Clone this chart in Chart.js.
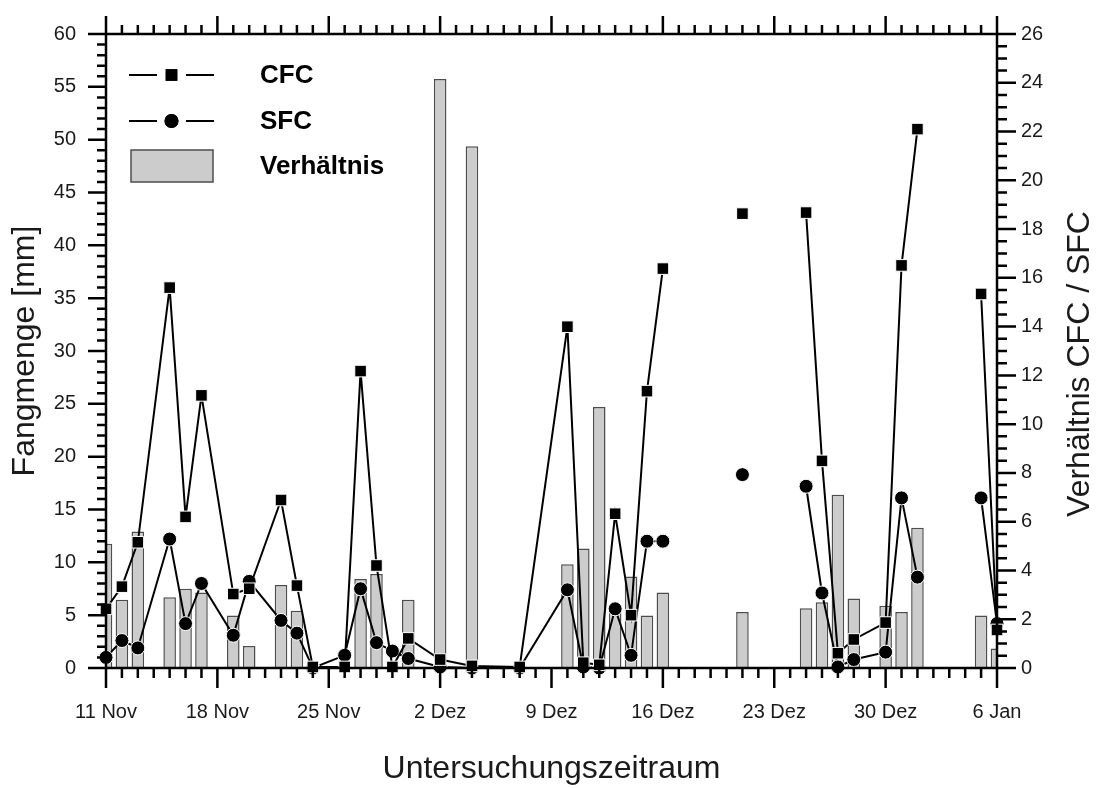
<!DOCTYPE html>
<html>
<head>
<meta charset="utf-8">
<title>Fangmenge CFC / SFC</title>
<script src="https://cdn.jsdelivr.net/npm/chart.js@4.4.1/dist/chart.umd.min.js"></script>
<style>
  html, body { margin: 0; padding: 0; background: #fff; }
  #wrap { width: 1096px; height: 788px; position: relative; }
</style>
</head>
<body>
<div id="wrap"><canvas id="fangChart"></canvas></div>
<script>
// days since 11 Nov; null = no measurement, the lines break there
const days  = [0, 1, 2, 4, 5, 6, 8, 9, 11, 12, 13, 15, 16, 17, 18, 19, 21, 23, 26, 29, 30, 31, 32, 33, 34, 35, 38, 40, 42, 44, 45, 46, 47, 49, 50, 51, 53, 55, 56];
const cfc   = [5.6, 7.7, 11.9, 36.0, 14.3, 25.8, 7.0, 7.5, 15.9, 7.8, 0.1, 0.1, 28.1, 9.7, 0.1, 2.8, 0.8, 0.2, 0.1, 32.3, 0.5, 0.3, 14.6, 5.0, 26.2, 37.8, null, 43.0, null, 43.1, 19.6, 1.4, 2.7, 4.3, 38.1, 51.0, null, 35.4, 3.6];
const sfc   = [1.0, 2.6, 1.9, 12.2, 4.2, 8.0, 3.1, 8.2, 4.5, 3.3, 0.0, 1.2, 7.5, 2.4, 1.6, 0.9, 0.1, 0.0, 0.0, 7.4, 0.1, 0.0, 5.6, 1.2, 12.0, 12.0, null, 18.3, null, 17.2, 7.1, 0.1, 0.8, 1.5, 16.1, 8.6, null, 16.1, 4.2];
const ratio = [5.1, 2.8, 5.6, 2.9, 3.25, 3.1, 2.15, 0.9, 3.4, 2.35, null, 0, 3.65, 3.85, 0, 2.8, 24.15, 21.4, null, 4.25, 4.9, 10.7, 2.45, 3.75, 2.15, 3.1, null, 2.3, null, 2.45, 2.7, 7.1, 2.85, 2.55, 2.3, 5.75, null, 2.15, 0.8];
const dateLabels = ['11 Nov', '18 Nov', '25 Nov', '2 Dez', '9 Dez', '16 Dez', '23 Dez', '30 Dez', '6 Jan'];

const FONT = "'Liberation Sans', Arial, sans-serif";
Chart.defaults.font.family = FONT;
Chart.defaults.color = '#1a1a1a';

// box around the plot with outward ticks on all four sides, plus legend and right title
const frameAndLegend = {
    id: 'frameAndLegend',
    afterDraw(chart) {
        const {ctx, chartArea: a, scales: {x, y, y2}} = chart;
        ctx.save();
        ctx.strokeStyle = '#000';
        ctx.lineWidth = 2.5;
        ctx.beginPath();
        for (let d = x.min; d <= x.max; d++) {
            const px = x.getPixelForValue(d);
            const major = d % 7 === 0;
            ctx.moveTo(px, a.bottom); ctx.lineTo(px, a.bottom + (major ? 20 : 10));
            ctx.moveTo(px, a.top); ctx.lineTo(px, a.top - (major ? 18 : 9));
        }
        for (let v = 0; v <= 60; v++) {
            const py = y.getPixelForValue(v);
            ctx.moveTo(a.left, py); ctx.lineTo(a.left - (v % 5 === 0 ? 18 : 9), py);
        }
        for (let v = 0; v <= 26; v += 0.5) {
            const py = y2.getPixelForValue(v);
            ctx.moveTo(a.right, py); ctx.lineTo(a.right + (v % 2 === 0 ? 19 : 10), py);
        }
        ctx.stroke();
        ctx.strokeRect(a.left, a.top, a.right - a.left, a.bottom - a.top);

        // legend
        const sets = chart.data.datasets;
        const rows = [{ds: sets[0], y: 75}, {ds: sets[1], y: 121}];
        ctx.lineWidth = 2;
        rows.forEach(r => {
            ctx.beginPath();
            ctx.moveTo(129, r.y); ctx.lineTo(157, r.y);
            ctx.moveTo(186, r.y); ctx.lineTo(214, r.y);
            ctx.stroke();
            Chart.helpers.drawPoint(ctx, {
                pointStyle: r.ds.pointStyle, radius: r.ds.pointRadius, borderWidth: 0
            }, 171.5, r.y);
            ctx.fillStyle = '#000';
            ctx.fill();
        });
        ctx.fillStyle = sets[2].backgroundColor;
        ctx.strokeStyle = sets[2].borderColor;
        ctx.lineWidth = 1.5;
        ctx.fillRect(131, 150, 82, 32);
        ctx.strokeRect(131, 150, 82, 32);

        ctx.fillStyle = '#000';
        ctx.font = 'bold 26px ' + FONT;
        ctx.textAlign = 'left';
        ctx.textBaseline = 'middle';
        ctx.fillText(sets[0].label, 260, 76);
        ctx.fillText(sets[1].label, 260, 122);
        ctx.fillText(sets[2].label, 260, 167);

        // right axis title reads upwards like the left one
        ctx.fillStyle = '#1a1a1a';
        ctx.font = '32px ' + FONT;
        ctx.textAlign = 'center';
        ctx.translate(1080, 364);
        ctx.rotate(-Math.PI / 2);
        ctx.fillText('Verhältnis CFC / SFC', 0, 0);
        ctx.restore();
    }
};

// fixed box sizes so the plot area sits at 106..997 x 34..668
const fixBox = (w, h) => s => {
    if (w) s.width = w;
    if (h) s.height = h;
    s.paddingTop = 0; s.paddingBottom = 0;
    s.paddingLeft = 0; s.paddingRight = 0;
};

document.addEventListener('DOMContentLoaded', function() {
    const ctx = document.getElementById('fangChart').getContext('2d');
    const pts = vals => days.map((d, i) => ({x: d, y: vals[i]}));

    new Chart(ctx, {
        data: {
            datasets: [{
                type: 'line',
                label: 'CFC',
                data: pts(cfc),
                yAxisID: 'y',
                borderColor: '#000',
                borderWidth: 2,
                pointStyle: 'rect',
                pointRadius: 8.2,
                pointBackgroundColor: '#000',
                pointBorderColor: '#fff',
                pointBorderWidth: 1,
                tension: 0,
                spanGaps: false,
                clip: false,
                order: 1
            }, {
                type: 'line',
                label: 'SFC',
                data: pts(sfc),
                yAxisID: 'y',
                borderColor: '#000',
                borderWidth: 2,
                pointStyle: 'circle',
                pointRadius: 7,
                pointBackgroundColor: '#000',
                pointBorderColor: '#fff',
                pointBorderWidth: 1,
                tension: 0,
                spanGaps: false,
                clip: false,
                order: 2
            }, {
                type: 'bar',
                label: 'Verhältnis',
                data: pts(ratio),
                yAxisID: 'y2',
                backgroundColor: '#cccccc',
                borderColor: '#4d4d4d',
                borderWidth: 1.5,
                barPercentage: 0.79,
                categoryPercentage: 1,
                order: 3
            }]
        },
        options: {
            responsive: true,
            maintainAspectRatio: false,
            animation: false,
            layout: { padding: { top: 34, left: 0, right: 0, bottom: 0 } },
            plugins: {
                legend: { display: false },
                tooltip: { enabled: false }
            },
            scales: {
                x: {
                    type: 'linear',
                    position: 'bottom',
                    min: 0,
                    max: 56,
                    offset: false,
                    grid: { display: false, drawTicks: false, offset: false },
                    border: { display: false },
                    ticks: {
                        stepSize: 7,
                        autoSkip: false,
                        maxRotation: 0,
                        padding: 32,
                        font: { size: 20 },
                        callback: v => dateLabels[v / 7]
                    },
                    title: {
                        display: true,
                        text: 'Untersuchungszeitraum',
                        font: { size: 32 },
                        padding: { top: 0, bottom: 0 }
                    },
                    afterFit: fixBox(0, 120)
                },
                y: {
                    type: 'linear',
                    position: 'left',
                    min: 0,
                    max: 60,
                    grid: { display: false, drawTicks: false },
                    border: { display: false },
                    ticks: { stepSize: 5, padding: 30, font: { size: 20 } },
                    title: {
                        display: true,
                        text: 'Fangmenge [mm]',
                        font: { size: 32 },
                        padding: { top: 6, bottom: 0 }
                    },
                    afterFit: fixBox(106, 0)
                },
                y2: {
                    type: 'linear',
                    position: 'right',
                    min: 0,
                    max: 26,
                    grid: { display: false, drawTicks: false },
                    border: { display: false },
                    ticks: { stepSize: 2, padding: 24, font: { size: 20 } },
                    afterFit: fixBox(99, 0)
                }
            }
        },
        plugins: [frameAndLegend]
    });
});
</script>
</body>
</html>
